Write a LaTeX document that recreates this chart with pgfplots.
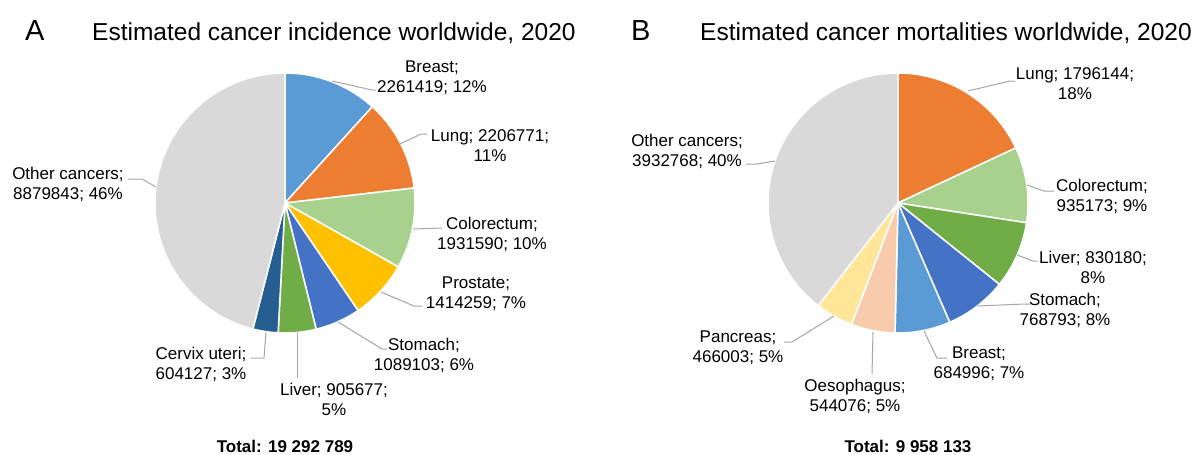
\documentclass[border=0pt]{standalone}
\usepackage{pgfplots}
\pgfplotsset{compat=1.18}
\usepackage{fontspec}
\setmainfont{Liberation Sans}
\definecolor{cBreast}{HTML}{5B9BD5}
\definecolor{cLung}{HTML}{ED7D31}
\definecolor{cColo}{HTML}{A9D18E}
\definecolor{cProst}{HTML}{FFC000}
\definecolor{cStom}{HTML}{4472C4}
\definecolor{cLiver}{HTML}{70AD47}
\definecolor{cCervix}{HTML}{255E91}
\definecolor{cOther}{HTML}{D9D9D9}
\definecolor{cOeso}{HTML}{F8CBAD}
\definecolor{cPanc}{HTML}{FFE699}
\definecolor{leader}{HTML}{A6A6A6}
\newcommand\lbl{\fontsize{17}{20}\selectfont}
% slice: #1 cx, #2 cy, #3 colour, #4 value, #5 total
\newcommand\slice[5]{%
  \xdef\endang{\fpeval{\curang - 360*#4/#5}}%
  \edef\tmp{\noexpand\addplot[draw=white, line width=1.5pt, line join=round, fill=#3, domain=\endang:\curang, samples=90]
    ({#1+130*cos(x)},{#2-130*sin(x)}) -- (axis cs:#1,#2) -- cycle;}%
  \tmp
  \global\let\curang\endang
}
\begin{document}
\begin{tikzpicture}
\begin{axis}[width=1200pt, height=455pt, scale only axis,
  xmin=0, xmax=1200, ymin=0, ymax=455, y dir=reverse,
  hide axis, clip=false]
\path (axis cs:0,0) rectangle (axis cs:1200,455);
% ---------------- Panel A: incidence ----------------
\xdef\curang{90}
\slice{285}{203}{cBreast}{2261419}{19292789}
\slice{285}{203}{cLung}{2206771}{19292789}
\slice{285}{203}{cColo}{1931590}{19292789}
\slice{285}{203}{cProst}{1414259}{19292789}
\slice{285}{203}{cStom}{1089103}{19292789}
\slice{285}{203}{cLiver}{905677}{19292789}
\slice{285}{203}{cCervix}{604127}{19292789}
\slice{285}{203}{cOther}{8879843}{19292789}
% ---------------- Panel B: mortality ----------------
\xdef\curang{90}
\slice{898}{203}{cLung}{1796144}{9958133}
\slice{898}{203}{cColo}{935173}{9958133}
\slice{898}{203}{cLiver}{830180}{9958133}
\slice{898}{203}{cStom}{768793}{9958133}
\slice{898}{203}{cBreast}{684996}{9958133}
\slice{898}{203}{cOeso}{544076}{9958133}
\slice{898}{203}{cPanc}{466003}{9958133}
\slice{898}{203}{cOther}{3932768}{9958133}
% ---------------- leader lines A ----------------
\begin{scope}[draw=leader, line width=1pt]
\draw (axis cs:332,81) -- (axis cs:372,90) -- (axis cs:376,90);
\draw (axis cs:400,144) -- (axis cs:421,134) -- (axis cs:427,134);
\draw (axis cs:413,229) -- (axis cs:442,228);
\draw (axis cs:381,292) -- (axis cs:414,306) -- (axis cs:422,306);
\draw (axis cs:338,322) -- (axis cs:382,349) -- (axis cs:387,349);
\draw (axis cs:297,333) -- (axis cs:297,378);
\draw (axis cs:266,332) -- (axis cs:264,358) -- (axis cs:251,358);
\draw (axis cs:156,187) -- (axis cs:142,179) -- (axis cs:128,179);
% ---------------- leader lines B ----------------
\draw (axis cs:968,91) -- (axis cs:1010,81) -- (axis cs:1015,81);
\draw (axis cs:1027,185) -- (axis cs:1044,191) -- (axis cs:1054,191);
\draw (axis cs:1017,255) -- (axis cs:1033,261) -- (axis cs:1038,261);
\draw (axis cs:977,306) -- (axis cs:1025,304) -- (axis cs:1030,304);
\draw (axis cs:924,331) -- (axis cs:937,358) -- (axis cs:947,358);
\draw (axis cs:873,332) -- (axis cs:872,374);
\draw (axis cs:834,316) -- (axis cs:792,342) -- (axis cs:784,342);
\draw (axis cs:775,161) -- (axis cs:757,164) -- (axis cs:746,164);
\end{scope}
% ---------------- labels A ----------------
\node[font=\lbl, align=center] at (axis cs:432,78) {Breast;\\2261419; 12\%};
\node[font=\lbl, align=center] at (axis cs:490,146) {Lung; 2206771;\\11\%};
\node[font=\lbl, align=center] at (axis cs:68,184) {Other cancers;\\8879843; 46\%};
\node[font=\lbl, align=center] at (axis cs:492,234) {Colorectum;\\1931590; 10\%};
\node[font=\lbl, align=center] at (axis cs:476,294) {Prostate;\\1414259; 7\%};
\node[font=\lbl, align=center] at (axis cs:424,355) {Stomach;\\1089103; 6\%};
\node[font=\lbl, align=center] at (axis cs:334,399) {Liver; 905677;\\5\%};
\node[font=\lbl, align=center] at (axis cs:201,364) {Cervix uteri;\\604127; 3\%};
% ---------------- labels B ----------------
\node[font=\lbl, align=center] at (axis cs:1075,84) {Lung; 1796144;\\18\%};
\node[font=\lbl, align=center] at (axis cs:687,151) {Other cancers;\\3932768; 40\%};
\node[font=\lbl, align=center] at (axis cs:1102,196) {Colorectum;\\935173; 9\%};
\node[font=\lbl, align=center] at (axis cs:1093,267) {Liver; 830180;\\8\%};
\node[font=\lbl, align=center] at (axis cs:1065,310) {Stomach;\\768793; 8\%};
\node[font=\lbl, align=center] at (axis cs:979,364) {Breast;\\684996; 7\%};
\node[font=\lbl, align=center] at (axis cs:855,396) {Oesophagus;\\544076; 5\%};
\node[font=\lbl, align=center] at (axis cs:738,348) {Pancreas;\\466003; 5\%};
% ---------------- titles ----------------
\node[anchor=base west, font=\fontsize{29}{32}\selectfont, inner sep=0pt] at (axis cs:25,40) {A};
\node[anchor=base west, font=\fontsize{24.5}{28}\selectfont, inner sep=0pt] at (axis cs:92,40) {Estimated cancer incidence worldwide, 2020};
\node[anchor=base west, font=\fontsize{29}{32}\selectfont, inner sep=0pt] at (axis cs:631,40) {B};
\node[anchor=base west, font=\fontsize{24.5}{28}\selectfont, inner sep=0pt] at (axis cs:700,40) {Estimated cancer mortalities worldwide, 2020};
\node[anchor=base, font=\bfseries\fontsize{17}{20}\selectfont, inner sep=0pt] at (axis cs:285,452) {Total: 19 292 789};
\node[anchor=base, font=\bfseries\fontsize{17}{20}\selectfont, inner sep=0pt] at (axis cs:908,452) {Total: 9 958 133};
\end{axis}
\end{tikzpicture}
\end{document}
